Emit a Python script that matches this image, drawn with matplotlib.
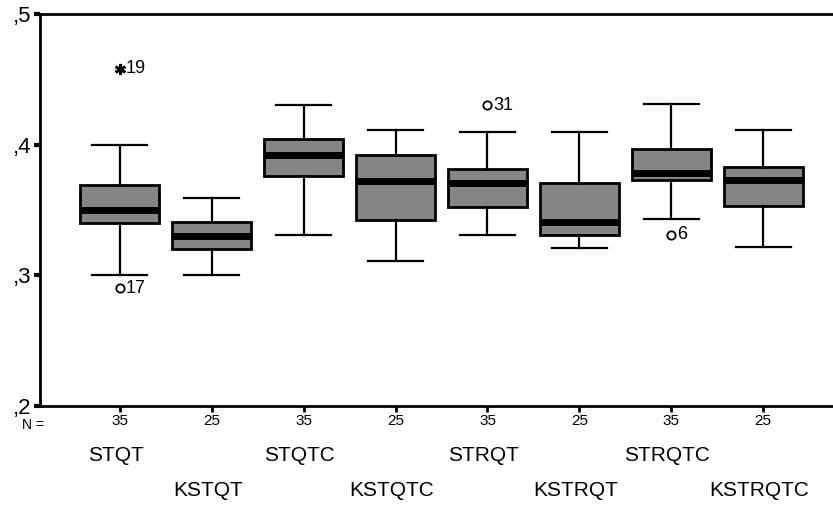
import numpy as np
import matplotlib.pyplot as plt
from matplotlib.transforms import blended_transform_factory

# values (SPSS style boxplot)
groups   = ["STQT", "KSTQT", "STQTC", "KSTQTC", "STRQT", "KSTRQT", "STRQTC", "KSTRQTC"]
counts   = [35, 25, 35, 25, 35, 25, 35, 25]
whislo   = [0.300, 0.300, 0.331, 0.311, 0.331, 0.321, 0.343, 0.322]
q1       = [0.340, 0.320, 0.376, 0.342, 0.352, 0.331, 0.373, 0.353]
medians  = [0.350, 0.330, 0.392, 0.372, 0.371, 0.341, 0.378, 0.373]
q3       = [0.369, 0.341, 0.404, 0.392, 0.381, 0.371, 0.397, 0.383]
whishi   = [0.400, 0.359, 0.430, 0.411, 0.410, 0.410, 0.431, 0.411]

# outliers (o) and extremes (*): group index, value, case number
outlier_group = [0, 4, 6]
outlier_value = [0.290, 0.430, 0.331]
outlier_case  = ["17", "31", "6"]
extreme_group = [0]
extreme_value = [0.458]
extreme_case  = ["19"]

yticks      = [0.2, 0.3, 0.4, 0.5]
ytick_label = [",2", ",3", ",4", ",5"]

plt.rcParams["font.family"] = ["Liberation Sans", "DejaVu Sans"]

fig = plt.figure(figsize=(8.33, 5.09), dpi=100)
ax  = fig.add_axes([0.048, 0.2024, 0.952, 0.7701])

positions = np.arange(1, len(groups) + 1)
stats = [
    dict(med=m, q1=a, q3=b, whislo=lo, whishi=hi, fliers=[])
    for m, a, b, lo, hi in zip(medians, q1, q3, whislo, whishi)
]
ax.bxp(
    stats, positions=positions, widths=0.86, capwidths=0.6,
    patch_artist=True, showfliers=False,
    boxprops=dict(facecolor="#858585", edgecolor="black", linewidth=2),
    medianprops=dict(color="black", linewidth=5, solid_capstyle="butt"),
    whiskerprops=dict(color="black", linewidth=1.6),
    capprops=dict(color="black", linewidth=1.6),
)

for g, v, c in zip(outlier_group, outlier_value, outlier_case):
    ax.plot(positions[g], v, marker="o", ms=6, mfc="white", mec="black", mew=1.3, ls="none")
    ax.annotate(c, (positions[g], v), xytext=(4, 0), textcoords="offset points",
                va="center", ha="left", fontsize=13)
for g, v, c in zip(extreme_group, extreme_value, extreme_case):
    ax.plot(positions[g], v, marker=(6, 2, 0), ms=8, mec="black", mew=2, ls="none")
    ax.annotate(c, (positions[g], v), xytext=(4, 0), textcoords="offset points",
                va="center", ha="left", fontsize=13)

ax.set_xlim(0.13, 8.76)
ax.set_ylim(0.2, 0.5)
ax.set_yticks(yticks)
ax.set_yticklabels(ytick_label, fontsize=16)
for lab in ax.get_yticklabels():
    lab.set_verticalalignment("center_baseline")
ax.tick_params(axis="y", length=4, width=3, pad=2)

ax.set_xticks(positions)
ax.set_xticklabels([str(n) for n in counts], fontsize=11)
ax.tick_params(axis="x", length=4, width=2, pad=2)

for side in ("left", "bottom", "top"):
    ax.spines[side].set_linewidth(2)
ax.spines["right"].set_visible(False)

trans = blended_transform_factory(ax.transData, ax.transAxes)
for i, (p, name) in enumerate(zip(positions, groups)):
    dy = -36 if i % 2 == 0 else -61
    ax.annotate(name, (p, 0), xycoords=trans, xytext=(-3, dy), textcoords="offset points",
                ha="center", va="center", fontsize=15)

ax.annotate("N =", (0, 0), xycoords="axes fraction", xytext=(-5, -14),
            textcoords="offset points", ha="center", va="center", fontsize=10)

fig.savefig("out.png", dpi=100)
